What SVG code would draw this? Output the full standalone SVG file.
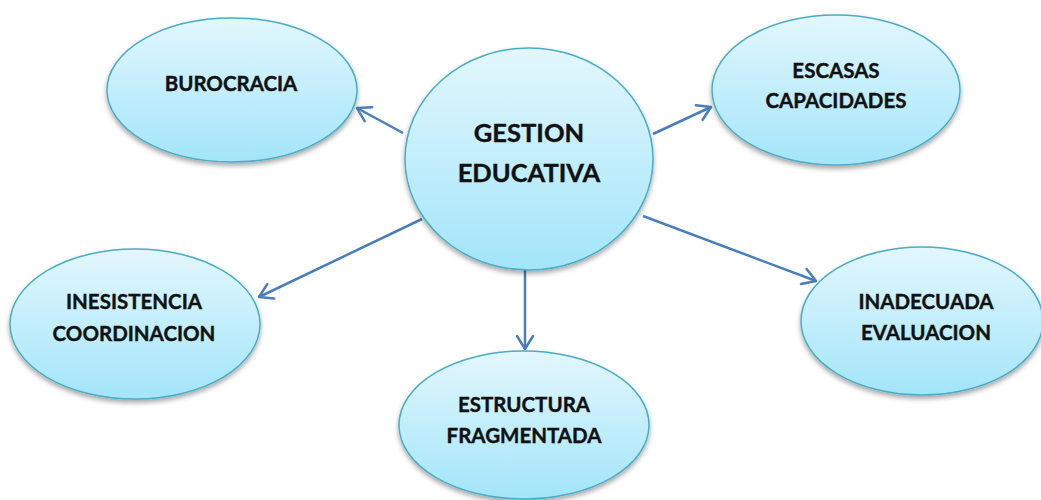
<svg xmlns="http://www.w3.org/2000/svg" width="1041" height="500" viewBox="0 0 1041 500">
<defs>
<linearGradient id="fillGrad" x1="0" y1="0" x2="0" y2="1">
<stop offset="0" stop-color="#E2F7FD"/>
<stop offset="1" stop-color="#A3E5FA"/>
</linearGradient>
<filter id="shadow" x="-10%" y="-10%" width="120%" height="125%">
<feDropShadow dx="0" dy="3" stdDeviation="2.5" flood-color="#000" flood-opacity="0.35"/>
</filter>
<marker id="arrow" markerUnits="userSpaceOnUse" markerWidth="20" markerHeight="20" viewBox="0 0 20 20" refX="17" refY="10" orient="auto">
<path d="M4,2 L17,10 L4,18" fill="none" stroke="#4A7EBB" stroke-width="2.5" stroke-linecap="round" stroke-linejoin="round"/>
</marker>
</defs>
<style>
.node ellipse{fill:url(#fillGrad);stroke:#4BACC6;stroke-width:1.5;filter:url(#shadow)}
.node text{font-family:Lato,"Liberation Sans","DejaVu Sans",sans-serif;font-weight:bold;fill:#111;stroke:#111;stroke-width:0.4;text-anchor:middle;font-size:20.5px}
.node.main text{font-size:25.5px}
.edges line{stroke:#4A7EBB;stroke-width:2.5;marker-end:url(#arrow)}
</style>
<rect width="1041" height="500" fill="#fff"/>
<g class="edges" id="connectors">
<line x1="403" y1="133" x2="357" y2="108"/>
<line x1="653" y1="134" x2="711" y2="107"/>
<line x1="422" y1="219" x2="259" y2="297"/>
<line x1="525" y1="270" x2="525" y2="349"/>
<line x1="643" y1="216" x2="816" y2="281"/>
</g>
<g class="node" id="burocracia">
<ellipse cx="232" cy="90" rx="125" ry="72"/>
<text x="231" y="91">BUROCRACIA</text>
</g>
<g class="node" id="escasas">
<ellipse cx="836" cy="90" rx="124" ry="75"/>
<text x="836" y="78">ESCASAS</text>
<text x="836" y="108">CAPACIDADES</text>
</g>
<g class="node" id="inesistencia">
<ellipse cx="135" cy="324" rx="125" ry="75"/>
<text x="134" y="309">INESISTENCIA</text>
<text x="134" y="341">COORDINACION</text>
</g>
<g class="node" id="inadecuada">
<ellipse cx="922" cy="321" rx="121" ry="74"/>
<text x="926" y="309">INADECUADA</text>
<text x="926" y="340">EVALUACION</text>
</g>
<g class="node" id="estructura">
<ellipse cx="524" cy="425" rx="125" ry="74"/>
<text x="524" y="412">ESTRUCTURA</text>
<text x="524" y="443">FRAGMENTADA</text>
</g>
<g class="node main" id="gestion">
<ellipse cx="529" cy="159" rx="124" ry="111"/>
<text x="529" y="142">GESTION</text>
<text x="529" y="182">EDUCATIVA</text>
</g>
</svg>
